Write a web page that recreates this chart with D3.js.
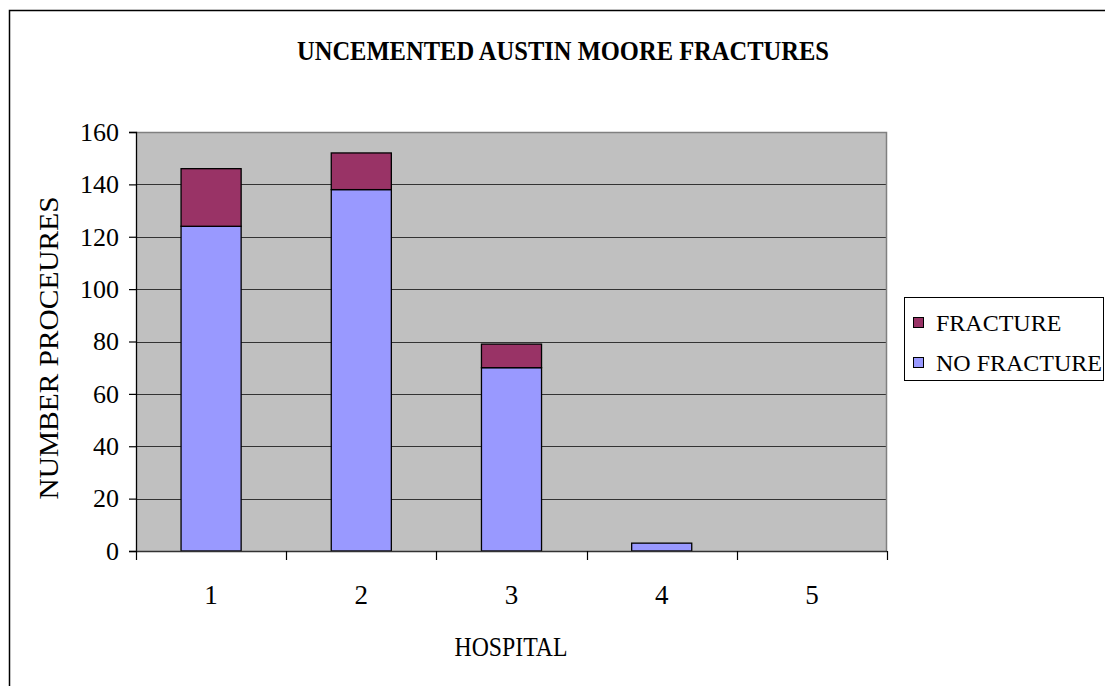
<!DOCTYPE html>
<html>
<head>
<meta charset="utf-8">
<script src="https://cdn.jsdelivr.net/npm/d3@7"></script>
<style>
  html, body { margin: 0; padding: 0; background: #fff; }
  svg { display: block; }
</style>
</head>
<body>
<svg id="chart" width="1105" height="686"></svg>
<script>
// Hospitals and procedure counts (stacked)
const hospitals = ["1", "2", "3", "4", "5"];
const noFracture = [124, 138, 70, 3, 0];
const fracture = [22, 14, 9, 0, 0];
const seriesNames = ["NO FRACTURE", "FRACTURE"];
const seriesColors = ["#9999ff", "#993366"];
const yTicks = [0, 20, 40, 60, 80, 100, 120, 140, 160];

const SERIF = "'Liberation Serif', 'Times New Roman', serif";

const rows = hospitals.map((h, i) => ({
  hospital: h,
  "NO FRACTURE": noFracture[i],
  "FRACTURE": fracture[i]
}));

const svg = d3.select("#chart");
const plot = { left: 136, right: 887, top: 132, bottom: 551 };

// frame around the whole chart (runs off the right and bottom edges)
svg.append("path")
  .attr("d", "M9.5,700 L9.5,10.5 L1120,10.5")
  .attr("fill", "none").attr("stroke", "#000").attr("stroke-width", 1.5);

const x = d3.scaleBand().domain(hospitals)
  .range([plot.left, plot.right]).paddingInner(0.6).paddingOuter(0.3);
const xCat = d3.scaleBand().domain(hospitals).range([plot.left, plot.right]);
const y = d3.scaleLinear().domain([0, 160]).range([plot.bottom, plot.top]);

// plot background
svg.append("rect")
  .attr("x", plot.left).attr("y", plot.top)
  .attr("width", plot.right - plot.left).attr("height", plot.bottom - plot.top)
  .attr("fill", "#c0c0c0");

// horizontal gridlines
svg.append("g").selectAll("line")
  .data(yTicks.filter(t => t > 0 && t < 160))
  .join("line")
  .attr("x1", plot.left).attr("x2", plot.right)
  .attr("y1", d => Math.round(y(d)) + 0.5).attr("y2", d => Math.round(y(d)) + 0.5)
  .attr("stroke", "#333").attr("stroke-width", 1.2);

// plot border
svg.append("path")
  .attr("d", `M${plot.left},${plot.top + 0.5} L${plot.right - 0.5},${plot.top + 0.5} L${plot.right - 0.5},${plot.bottom}`)
  .attr("fill", "none").attr("stroke", "#808080").attr("stroke-width", 1.5);

// stacked bars
const stack = d3.stack().keys(seriesNames);
const layers = stack(rows);
svg.append("g").selectAll("g")
  .data(layers)
  .join("g")
  .attr("fill", (d, i) => seriesColors[i])
  .selectAll("rect")
  .data(d => d.filter(s => s[1] - s[0] > 0))
  .join("rect")
  .attr("x", d => x(d.data.hospital))
  .attr("width", x.bandwidth())
  .attr("y", d => y(d[1]))
  .attr("height", d => y(d[0]) - y(d[1]))
  .attr("stroke", "#000").attr("stroke-width", 1.3);

// y axis
const yAxis = svg.append("g").attr("transform", `translate(${plot.left},0)`)
  .call(d3.axisLeft(y).tickValues(yTicks).tickSize(7).tickPadding(10).tickFormat(d3.format("d")));
yAxis.attr("font-family", null).attr("font-size", null);
yAxis.select(".domain").attr("stroke", "#000").attr("stroke-width", 1.3);
yAxis.selectAll(".tick line").attr("stroke", "#000").attr("stroke-width", 1.2);
yAxis.selectAll(".tick text")
  .attr("font-family", SERIF).attr("font-size", 26)
  .attr("fill", "#000");

// x axis line and category separators
const xg = svg.append("g");
xg.append("line")
  .attr("x1", plot.left).attr("x2", plot.right)
  .attr("y1", plot.bottom + 0.5).attr("y2", plot.bottom + 0.5)
  .attr("stroke", "#333").attr("stroke-width", 1.5);
const bounds = hospitals.map(h => xCat(h)).concat([plot.right]);
xg.selectAll("line.sep").data(bounds).join("line").attr("class", "sep")
  .attr("x1", d => Math.round(d) + 0.5).attr("x2", d => Math.round(d) + 0.5)
  .attr("y1", plot.bottom).attr("y2", plot.bottom + 9)
  .attr("stroke", "#000").attr("stroke-width", 1.2);
xg.selectAll("text").data(hospitals).join("text")
  .attr("x", d => xCat(d) + xCat.bandwidth() / 2)
  .attr("y", 604)
  .attr("text-anchor", "middle")
  .attr("font-family", SERIF).attr("font-size", 27)
  .text(d => d);

// titles
svg.append("text")
  .attr("x", 563).attr("y", 60).attr("text-anchor", "middle")
  .attr("textLength", 532).attr("lengthAdjust", "spacingAndGlyphs")
  .attr("font-family", SERIF).attr("font-size", 28).attr("font-weight", "bold")
  .text("UNCEMENTED AUSTIN MOORE FRACTURES");

svg.append("text")
  .attr("x", 511).attr("y", 656).attr("text-anchor", "middle")
  .attr("textLength", 113).attr("lengthAdjust", "spacingAndGlyphs")
  .attr("font-family", SERIF).attr("font-size", 28)
  .text("HOSPITAL");

svg.append("text")
  .attr("transform", "translate(58,348) rotate(-90)")
  .attr("text-anchor", "middle")
  .attr("textLength", 303).attr("lengthAdjust", "spacingAndGlyphs")
  .attr("font-family", SERIF).attr("font-size", 28)
  .text("NUMBER PROCEURES");

// legend
const legend = svg.append("g");
legend.append("rect")
  .attr("x", 904.5).attr("y", 297.5).attr("width", 199).attr("height", 83)
  .attr("fill", "#fff").attr("stroke", "#000").attr("stroke-width", 1);
const legendItems = [
  { name: "FRACTURE", color: seriesColors[1] },
  { name: "NO FRACTURE", color: seriesColors[0] }
];
const li = legend.selectAll("g.item").data(legendItems).join("g").attr("class", "item")
  .attr("transform", (d, i) => `translate(0,${i * 40})`);
li.append("rect")
  .attr("x", 913.5).attr("y", 317.5).attr("width", 10).attr("height", 10)
  .attr("fill", d => d.color).attr("stroke", "#000").attr("stroke-width", 1);
li.append("text")
  .attr("x", 936).attr("y", 331)
  .attr("font-family", SERIF).attr("font-size", 24)
  .text(d => d.name);
</script>
</body>
</html>
